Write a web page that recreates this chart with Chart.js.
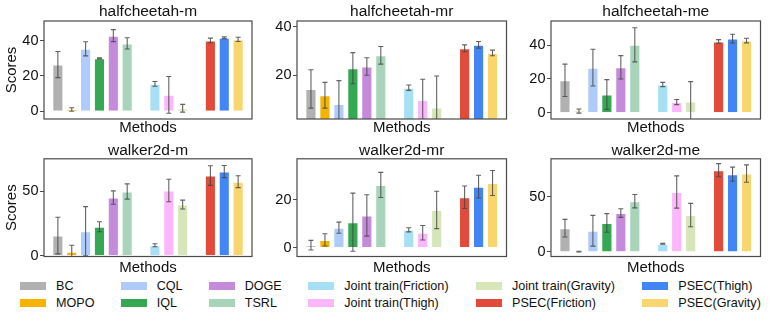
<!DOCTYPE html>
<html><head><meta charset="utf-8">
<script src="https://cdn.jsdelivr.net/npm/chart.js@4"></script>
<style>
html,body{margin:0;padding:0;background:#fff;width:773px;height:321px;overflow:hidden;font-family:"Liberation Sans",Arial,sans-serif;}
canvas{position:absolute;}
.li{position:absolute;display:flex;align-items:center;height:16px;font-size:12.6px;color:#111;white-space:nowrap;}
.sw{width:26px;height:8px;margin-right:10px;}
</style></head><body>
<div id="wrap"></div>
<script>
// ---------- data ----------
const methods = ['BC','MOPO','CQL','IQL','DOGE','TSRL','Joint train(Friction)','Joint train(Thigh)','Joint train(Gravity)','PSEC(Friction)','PSEC(Thigh)','PSEC(Gravity)'];
const methodColors = ['#b1b1b1','#f6b400','#aecbfa','#34a853','#c58bda','#a8d5ba','#a7dff5','#fcb6fb','#d7e6b9','#e24b3a','#4285f4','#f9d56e'];
const groupSizes = [6,3,3];
const tasks = ['halfcheetah-m','halfcheetah-mr','halfcheetah-me','walker2d-m','walker2d-mr','walker2d-me'];

const hcM_mean  = [26.5,1.0,35.4,30.0,42.9,38.5,15.5,9.3,1.7,40.2,41.7,40.8];
const hcM_err   = [7.4,1.0,4.0,0.3,3.4,3.2,1.35,10.4,2.2,1.3,0.5,1.2];
const hcMR_mean = [14.4,11.8,8.2,22.9,23.6,28.2,14.9,9.9,6.8,31.1,32.5,29.2];
const hcMR_err  = [7.9,5.3,9.6,6.4,3.6,3.6,1.1,8.5,12.9,1.4,1.35,1.15];
const hcME_mean = [19.2,1.0,26.7,10.8,26.9,40.2,16.7,6.3,6.7,42.2,43.9,42.7];
const hcME_err  = [9.6,1.2,10.9,8.8,6.9,10.1,1.25,1.5,11.7,1.1,2.6,1.35];
const wkM_mean  = [15.6,3.1,19.0,22.4,45.0,49.7,8.1,50.5,39.6,62.0,65.1,57.3];
const wkM_err   = [14.2,5.0,19.0,3.9,5.2,5.9,1.2,8.7,3.4,7.6,4.7,4.6];
const wkMR_mean = [1.0,3.2,8.3,10.6,13.4,26.1,7.4,6.2,15.7,21.0,25.4,26.9];
const wkMR_err  = [2.0,2.55,2.3,12.1,8.6,5.25,0.85,3.0,7.8,4.7,4.75,5.2];
const wkME_mean = [21.6,0.3,19.2,26.3,35.3,46.1,7.5,54.5,33.5,74.3,70.7,71.3];
const wkME_err  = [8.0,0.3,14.0,8.5,3.9,6.1,0.4,14.7,10.6,6.0,6.4,7.9];

const yMins = [-4.4, 2.05, -3.7, -0.6, -3.7, -4.2];
const yMaxs = [51.2, 42.3, 54.3, 75, 37, 84.7];
const yTicks = [[0,20,40],[20,40],[0,20,40],[0,50],[0,20],[0,50]];
const xTitle = 'Methods';
const yTitle = 'Scores';

const means = [hcM_mean,hcMR_mean,hcME_mean,wkM_mean,wkMR_mean,wkME_mean];
const errs  = [hcM_err,hcMR_err,hcME_err,wkM_err,wkMR_err,wkME_err];

// ---------- slots with gaps between method groups ----------
function withGaps(arr, fill){
  const out=[fill]; let k=0;
  groupSizes.forEach(g=>{ for(let j=0;j<g;j++) out.push(arr[k++]); out.push(fill); });
  return out;
}
const slotLabels = withGaps(methods,'');
const slotColors = withGaps(methodColors,'rgba(0,0,0,0)');

const FONT = '"Liberation Sans", Arial, sans-serif';

const errorBars = {
  id:'errorBars',
  afterDatasetsDraw(chart){
    const {ctx, chartArea:a} = chart; const y = chart.scales.y;
    const meta = chart.getDatasetMeta(0); const ds = chart.data.datasets[0];
    ctx.save();
    ctx.beginPath(); ctx.rect(a.left,a.top,a.right-a.left,a.bottom-a.top); ctx.clip();
    ctx.strokeStyle='rgba(70,70,70,0.85)'; ctx.lineWidth=1.1;
    meta.data.forEach((el,i)=>{
      const v = ds.data[i], e = ds.errors[i];
      if (v==null) return;
      const x = el.x, y1 = y.getPixelForValue(v+e), y2 = y.getPixelForValue(v-e);
      ctx.beginPath();
      ctx.moveTo(x,y1); ctx.lineTo(x,y2);
      ctx.moveTo(x-2.5,y1); ctx.lineTo(x+2.5,y1);
      ctx.moveTo(x-2.5,y2); ctx.lineTo(x+2.5,y2);
      ctx.stroke();
    });
    ctx.restore();
  }
};
const boxPlugin = {
  id:'boxPlugin',
  afterDraw(chart){
    const {ctx, chartArea:a} = chart;
    ctx.save(); ctx.strokeStyle='#4a4a4a'; ctx.lineWidth=1.2;
    ctx.strokeRect(a.left,a.top,a.right-a.left,a.bottom-a.top);
    ctx.restore();
  }
};

// layout: columns and rows
const cols = [{left:0,width:256,yw:44,rp:4},{left:256,width:254,yw:41,rp:3.5},{left:510,width:255,yw:41,rp:4.5}];
const rows = [{top:0,height:140,th:21,pt:3.6,xh:21,xp:4},{top:140,height:138,th:18.8,pt:2.8,xh:21.5,xp:1.8}];

const wrap = document.getElementById('wrap');
tasks.forEach((task,i)=>{
  const c = cols[i%3], r = rows[Math.floor(i/3)];
  const cv = document.createElement('canvas');
  cv.width = c.width; cv.height = r.height;
  cv.style.left = c.left+'px'; cv.style.top = r.top+'px';
  cv.style.width = c.width+'px'; cv.style.height = r.height+'px';
  wrap.appendChild(cv);
  const ticks = yTicks[i];
  new Chart(cv, {
    type:'bar',
    data:{labels:slotLabels, datasets:[{
      data: withGaps(means[i], null),
      errors: withGaps(errs[i], null),
      backgroundColor: slotColors,
      borderColor:'rgba(255,255,255,0.75)', borderWidth:1,
      barPercentage:0.8, categoryPercentage:1
    }]},
    options:{
      responsive:false, animation:false, devicePixelRatio:1,
      layout:{padding:{left:0,right:c.rp,top:0,bottom:0}},
      plugins:{ legend:{display:false}, tooltip:{enabled:false} },
      scales:{
        x:{offset:false, grid:{display:false}, border:{display:false},
           ticks:{display:false, autoSkip:false},
           title:{display:true,text:xTitle,color:'#111',font:{family:FONT,size:15,lineHeight:'16px'},padding:{top:0,bottom:r.xp}},
           afterFit(s){ s.height = r.xh; }},
        xTop:{type:'category', position:'top', offset:false, grid:{display:false}, border:{display:false},
           ticks:{display:false, autoSkip:false},
           title:{display:true,text:task,color:'#111',font:{family:FONT,size:15.5,lineHeight:'16px'},padding:{top:r.pt,bottom:0}},
           afterFit(s){ s.height = r.th; }},
        y:{min:yMins[i], max:yMaxs[i],
           afterBuildTicks(s){ s.ticks = ticks.map(v=>({value:v})); },
           grid:{drawOnChartArea:false, drawTicks:true, tickLength:4, color:'#4a4a4a'},
           border:{display:false},
           ticks:{font:{family:FONT,size:14.5},color:'#111',padding:1.5},
           title:{display:(i%3===0),text:yTitle,color:'#111',font:{family:FONT,size:15,lineHeight:'16px'},padding:{top:4,bottom:0}},
           afterFit(s){ s.width = c.yw; }}
      }
    },
    plugins:[errorBars, boxPlugin]
  });
});

// ---------- legend (column-major, 2 rows) ----------
const legendColX = [20,120.7,208.7,308.3,476,642.3];
const legendRowY = [285.5,303];
methods.forEach((m,k)=>{
  const d = document.createElement('div'); d.className='li';
  d.style.left = legendColX[Math.floor(k/2)]+'px';
  d.style.top = (legendRowY[k%2]-8)+'px';
  const sw = document.createElement('span'); sw.className='sw'; sw.style.background = methodColors[k];
  const t = document.createElement('span'); t.textContent = m;
  d.appendChild(sw); d.appendChild(t); wrap.appendChild(d);
});
</script>
</body></html>
